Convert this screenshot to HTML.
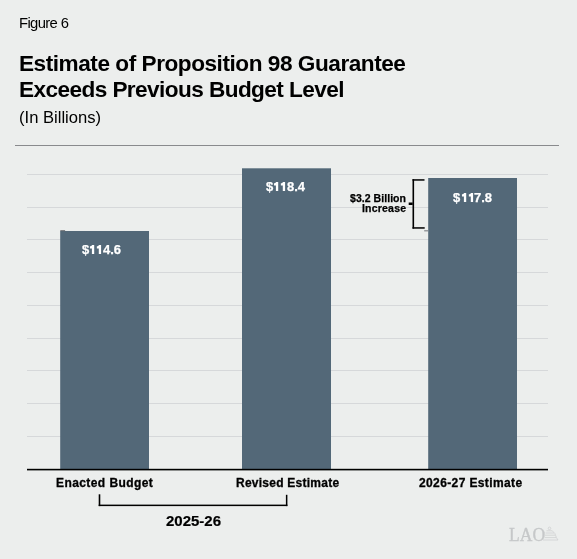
<!DOCTYPE html>
<html><head><meta charset="utf-8">
<style>
html,body{margin:0;padding:0;background:#eceeed;}
body{width:577px;height:559px;background:#eceeed;position:relative;overflow:hidden;font-family:"Liberation Sans",sans-serif;color:#000;}
.t{position:absolute;white-space:nowrap;line-height:1;will-change:transform;}
.fig{left:18.8px;top:15.9px;font-size:14.8px;letter-spacing:-0.62px;}
.title{left:19px;font-size:22.6px;font-weight:bold;letter-spacing:-0.38px;}
.sub{left:18.7px;top:109.6px;font-size:16.6px;}
.val{color:#fff;font-weight:bold;font-size:13px;-webkit-text-stroke:0.25px #fff;}
.lab{font-weight:bold;font-size:12px;letter-spacing:0.3px;top:477px;-webkit-text-stroke:0.3px #000;}
.ann{font-weight:bold;font-size:10.5px;text-align:right;-webkit-text-stroke:0.25px #000;}
.o{color:transparent;-webkit-text-stroke:0 transparent;}
svg.c{position:absolute;left:0;top:0;will-change:transform;}
</style></head><body>
<svg class="c" width="577" height="559" viewBox="0 0 577 559">
<!-- top rule -->
<rect x="15" y="145" width="544" height="1" fill="#898a8d"/>
<!-- gridlines -->
<g fill="#d6d8da">
<rect x="27" y="174" width="521" height="1"/>
<rect x="27" y="207" width="521" height="1"/>
<rect x="27" y="239" width="521" height="1"/>
<rect x="27" y="272" width="521" height="1"/>
<rect x="27" y="305" width="521" height="1"/>
<rect x="27" y="338" width="521" height="1"/>
<rect x="27" y="370" width="521" height="1"/>
<rect x="27" y="403" width="521" height="1"/>
<rect x="27" y="436" width="521" height="1"/>
</g>
<!-- bars -->
<g fill="#536878">
<rect x="60.2" y="231" width="88.8" height="239"/>
<rect x="242" y="168.3" width="89" height="301.7"/>
<rect x="428.2" y="178" width="88.8" height="292"/>
</g>
<rect x="60.3" y="230.2" width="4.8" height="1" fill="#66686b"/>
<!-- axis -->
<rect x="27" y="468.8" width="521" height="1.6" fill="#000"/>
<!-- annotation bracket -->
<g fill="#000">
<rect x="412.5" y="179.2" width="1.6" height="49.4"/>
<rect x="412.5" y="179.2" width="12" height="1.5"/>
<rect x="412.5" y="227.2" width="12.2" height="1.5"/>
<rect x="408.7" y="202.5" width="4" height="2.5"/>
</g>
<rect x="424.2" y="230.2" width="4" height="1.2" fill="#85888c"/>
<!-- bottom bracket -->
<g fill="#000">
<rect x="98.7" y="494.3" width="1.6" height="11.8"/>
<rect x="285.9" y="494.8" width="1.5" height="11.3"/>
<rect x="98.7" y="504.6" width="188.7" height="1.5"/>
</g>
<path fill="#fff" d="M94.20 254 V244.90 H92.10 C91.70 245.80 90.90 246.20 89.95 246.30 V248.60 H91.90 V254 Z M101.10 254 V244.90 H99.00 C98.60 245.80 97.80 246.20 96.85 246.30 V248.60 H98.80 V254 Z M278.20 191 V181.90 H276.10 C275.70 182.80 274.90 183.20 273.95 183.30 V185.60 H275.90 V191 Z M285.10 191 V181.90 H283.00 C282.60 182.80 281.80 183.20 280.85 183.30 V185.60 H282.80 V191 Z M466.20 202 V192.90 H464.10 C463.70 193.80 462.90 194.20 461.95 194.30 V196.60 H463.90 V202 Z M473.10 202 V192.90 H471.00 C470.60 193.80 469.80 194.20 468.85 194.30 V196.60 H470.80 V202 Z"/>
</svg>

<div class="t fig">Figure 6</div>
<div class="t title" style="top:52.8px;letter-spacing:-0.46px">Estimate of Proposition 98 Guarantee</div>
<div class="t title" style="top:78.8px;letter-spacing:-0.575px">Exceeds Previous Budget Level</div>
<div class="t sub">(In Billions)</div>

<div class="t val" style="left:81.5px;top:243px">$<span class="o">11</span>4.6</div>
<div class="t val" style="left:265.5px;top:180px">$<span class="o">11</span>8.4</div>
<div class="t val" style="left:453.4px;top:191px">$<span class="o">11</span>7.8</div>

<div class="t ann" style="right:170.9px;top:193px;letter-spacing:0.05px">$3.2 Billion</div>
<div class="t ann" style="right:170.8px;top:203px;letter-spacing:0.2px">Increase</div>

<div class="t lab" style="left:55.6px;letter-spacing:0.42px">Enacted Budget</div>
<div class="t lab" style="left:235.8px;letter-spacing:0.25px">Revised Estimate</div>
<div class="t lab" style="left:418.8px;letter-spacing:0.38px">2026-27 Estimate</div>

<div class="t" style="left:165.5px;top:512.8px;font-size:15px;font-weight:bold;-webkit-text-stroke:0.2px #000">2025-26</div>

<!-- LAO logo -->
<svg style="position:absolute;left:500px;top:515px;will-change:transform" width="70" height="35" viewBox="0 0 70 35">
<text x="9" y="25.8" font-family="Liberation Serif" font-size="19.3" fill="#c6c8c9" stroke="#c6c8c9" stroke-width="0.35" transform="scale(0.91,1)" style="transform-origin:9px 0">LAO</text>
<g fill="none" stroke="#cdcfd0" stroke-width="0.75">
<circle cx="49.5" cy="13.4" r="1.3"/>
<path d="M46.5 15.8 H52.3 M45.6 18 H54 M45 20.2 H55 M44.5 22.6 H56.2 M43 25 H58"/>
<path d="M52.3 15.8 Q55.5 18 56.4 22.6 L58 25"/>
</g>
</svg>
</body></html>
